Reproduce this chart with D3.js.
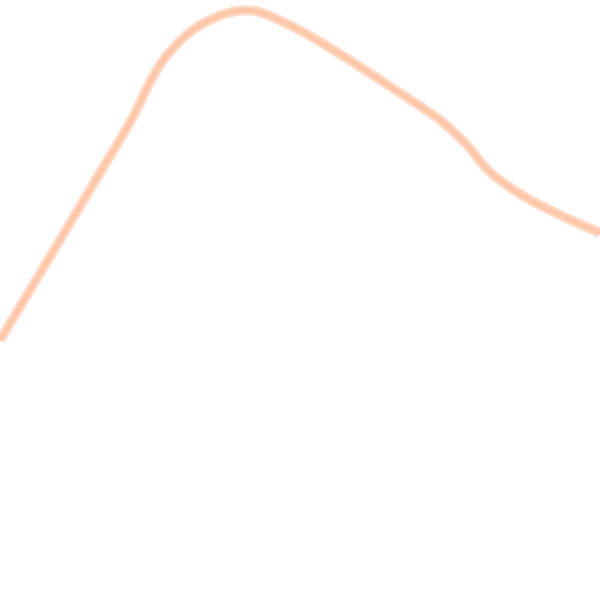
<!DOCTYPE html>
<html><head><meta charset="utf-8">
<script src="https://cdn.jsdelivr.net/npm/d3@7"></script>
<style>html,body{margin:0;padding:0;background:#fff;overflow:hidden}</style>
</head><body>
<svg id="c" width="600" height="600"></svg>
<script>
const xValues = [0,8.33,16.67,22.17,25,27.83,33.33,41.17,48.33,55.5,66.67,73.33,77.5,81.67,88.33,100];
const yValues = [43.3,57.2,71.2,80.5,86.3,90.8,95.8,98.3,95.8,91.7,84.5,80,76.2,71.3,66.7,61.2];

const W = 600, H = 600;
const x = d3.scaleLinear().domain([0,100]).range([0,W]);
const y = d3.scaleLinear().domain([0,100]).range([H,0]);
const pts = xValues.map((v,i)=>[v,yValues[i]]);
const line = d3.line().x(d=>x(d[0])).y(d=>y(d[1])).curve(d3.curveCatmullRom.alpha(0.5));
const svg = d3.select("#c");
svg.append("path").datum(pts).attr("d",line)
  .attr("fill","none").attr("stroke","#fedac6").attr("stroke-width",10)
  .attr("stroke-linejoin","round");
svg.append("path").datum(pts).attr("d",line)
  .attr("fill","none").attr("stroke","#fdc7aa").attr("stroke-width",5)
  .attr("stroke-linejoin","round");
</script>
</body></html>
